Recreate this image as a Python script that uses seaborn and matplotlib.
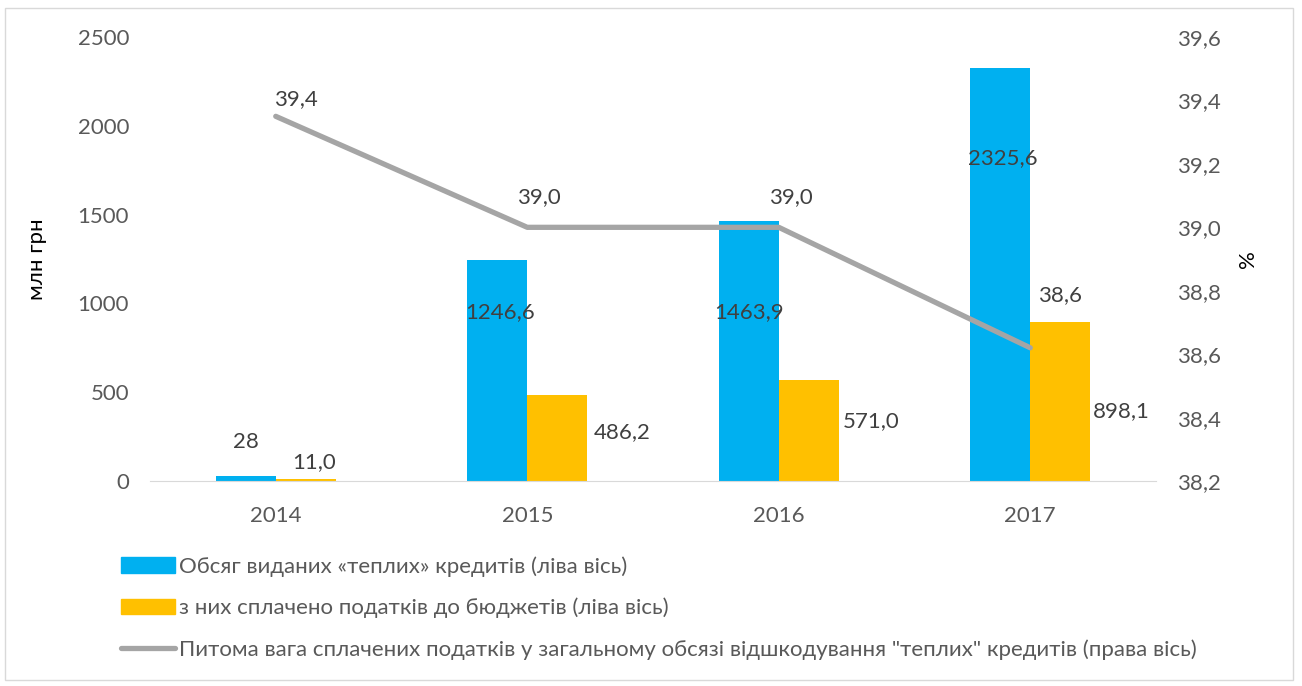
import numpy as np
import pandas as pd
import matplotlib
matplotlib.use('Agg')
import matplotlib.pyplot as plt
import seaborn as sns
from matplotlib.patches import Patch, Rectangle
from matplotlib.lines import Line2D

years = ['2014', '2015', '2016', '2017']
credits = [28, 1246.6, 1463.9, 2325.6]
taxes = [11.0, 486.2, 571.0, 898.1]
share = [39.35, 39.0, 39.0, 38.62]

name_credits = 'Обсяг виданих «теплих» кредитів (ліва вісь)'
name_taxes = 'з них сплачено податків до бюджетів (ліва вісь)'
name_share = 'Питома вага сплачених податків у загальному обсязі відшкодування "теплих" кредитів (права вісь)'

blue = '#00B0F0'
orange = '#FFC000'
grey = '#A5A5A5'
txt = '#404040'
fs = 16

# label offsets (pixels) as Excel placed them
off_credits = [(0, 34), (3, -52), (0, -91), (3, -90)]
off_taxes = [(8, 17), (65, -37), (62, -41), (61, -90)]
off_share = [(20, 17), (12, 30), (12, 30), (30, 53)]

sns.set_style('white')
plt.rcParams['font.family'] = ['Lato', 'DejaVu Sans']

df = pd.DataFrame({
    'year': years * 2,
    'series': [name_credits] * 4 + [name_taxes] * 4,
    'value': credits + taxes,
})

fig = plt.figure(figsize=(13.02, 6.86), dpi=100)
ax = fig.add_axes([0.1152, 0.2988, 0.7727, 0.6472])
sns.barplot(data=df, x='year', y='value', hue='series', palette=[blue, orange],
            width=0.477, gap=0, saturation=1, ax=ax, legend=False, linewidth=0)
ax.set_ylim(0, 2500)
ax.set_yticks(np.arange(0, 2501, 500))
ax.set_xlabel('')
ax.set_ylabel('млн грн', fontsize=fs, color='#000000', labelpad=22)
ax.tick_params(axis='both', length=0, labelsize=fs, labelcolor='#595959')
ax.tick_params(axis='y', pad=15)
ax.tick_params(axis='x', pad=18)
for s in ['top', 'left', 'right']:
    ax.spines[s].set_visible(False)
ax.spines['bottom'].set_color('#D9D9D9')

ax2 = ax.twinx()
sns.lineplot(x=np.arange(len(years)), y=share, ax=ax2, color=grey, lw=3.8,
             solid_capstyle='round')
ax2.set_ylim(38.2, 39.6)
rt = np.round(np.arange(38.2, 39.61, 0.2), 1)
ax2.set_yticks(rt)
ax2.set_yticklabels([f'{v:.1f}'.replace('.', ',') for v in rt])
ax2.tick_params(axis='y', length=0, labelsize=fs, labelcolor='#595959', pad=15)
ax2.set_ylabel('%', fontsize=fs, color='#000000', labelpad=12)
for s in ['top', 'left', 'right', 'bottom']:
    ax2.spines[s].set_visible(False)
ax.set_xlim(-0.5, 3.5)
ax2.set_xlim(-0.5, 3.5)

# data labels
bars_c, bars_t = ax.containers[0], ax.containers[1]
for bar, v, (dx, dy) in zip(bars_c, credits, off_credits):
    x = bar.get_x() + bar.get_width() / 2
    ax.annotate(f'{v:g}'.replace('.', ','), (x, v), xytext=(dx, dy),
                textcoords='offset pixels', ha='center', va='center',
                fontsize=fs, color=txt)
for bar, v, (dx, dy) in zip(bars_t, taxes, off_taxes):
    x = bar.get_x() + bar.get_width() / 2
    ax.annotate(f'{v:.1f}'.replace('.', ','), (x, v), xytext=(dx, dy),
                textcoords='offset pixels', ha='center', va='center',
                fontsize=fs, color=txt)
for i, (v, (dx, dy)) in enumerate(zip(share, off_share)):
    ax2.annotate(f'{v:.1f}'.replace('.', ','), (i, v), xytext=(dx, dy),
                 textcoords='offset pixels', ha='center', va='center',
                 fontsize=fs, color=txt)

handles = [Patch(color=blue), Patch(color=orange),
           Line2D([0], [0], color=grey, lw=3.8, solid_capstyle='round')]
fig.legend(handles, [name_credits, name_taxes, name_share],
           loc='upper left', bbox_to_anchor=(101 / 1302, 1 - 536 / 686),
           frameon=False, fontsize=fs, labelcolor='#595959',
           handlelength=2.45, handletextpad=0.15, labelspacing=0.95)

fig.patches.append(Rectangle((5 / 1302, 6 / 686), 1288 / 1302, 672 / 686,
                             transform=fig.transFigure, fill=False,
                             edgecolor='#D9D9D9', lw=1))

fig.savefig('out.png', dpi=100)
